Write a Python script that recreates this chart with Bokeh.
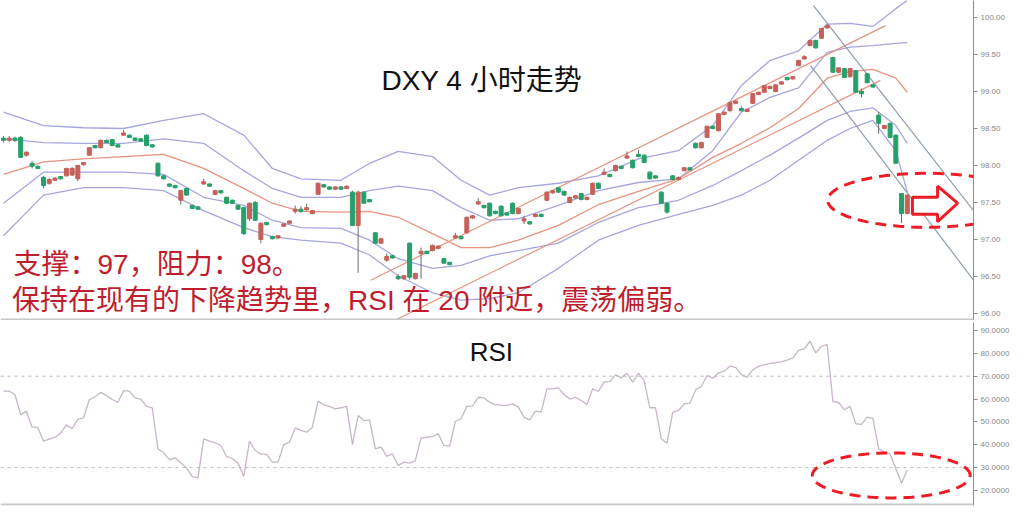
import numpy as np
from bokeh.plotting import figure
from bokeh.layouts import column
from bokeh.models import (Range1d, FixedTicker, NumeralTickFormatter, Span, Label,
                          PolyAnnotation, ColumnDataSource)
from bokeh.embed import file_html
from bokeh.resources import INLINE

# ---------------- data ----------------
opens = [98.37, 98.34, 98.37, 98.38, 98.14, 98.03, 97.99, 97.84, 97.76, 97.80,
         97.85, 97.86, 97.87, 97.82, 98.01, 98.14, 98.27, 98.24, 98.34, 98.35,
         98.28, 98.41, 98.41, 98.37, 98.36, 98.41, 98.28, 98.03, 97.86, 97.75,
         97.73, 97.53, 97.69, 97.46, 97.44, 97.75, 97.75, 97.61, 97.66, 97.57,
         97.53, 97.46, 97.43, 97.28, 97.50, 97.00, 97.23, 97.04, 97.02, 97.18,
         97.22, 97.38, 97.41, 97.40, 97.35, 97.61, 97.74, 97.71, 97.68, 97.71,
         97.69, 97.64, 97.19, 97.64, 97.54, 97.09, 96.95, 96.72, 96.78, 96.50,
         96.47, 96.95, 96.47, 96.81, 96.84, 96.85, 96.88, 96.74, 96.69, 97.02,
         97.04, 97.09, 97.29, 97.48, 97.46, 97.49, 97.38, 97.45, 97.36, 97.49,
         97.35, 97.25, 97.24, 97.31, 97.34, 97.53, 97.63, 97.70, 97.65, 97.50,
         97.56, 97.62, 97.54, 97.61, 97.76, 97.88, 97.88, 97.93, 97.99, 98.10,
         98.07, 98.15, 98.14, 97.91, 97.86, 97.64, 97.49, 97.86, 97.81, 97.93,
         97.97, 98.30, 98.24, 98.38, 98.53, 98.47, 98.69, 98.74, 98.84, 98.77,
         98.73, 98.84, 98.96, 98.99, 99.04, 99.00, 99.10, 99.19, 99.17, 99.35,
         99.44, 99.62, 99.69, 99.72, 99.86, 99.46, 99.26, 99.31, 99.20, 99.28,
         99.00, 99.24, 99.09, 98.68, 98.50, 98.57, 98.41, 97.62, 97.35]
closes = [98.34, 98.37, 98.34, 98.11, 98.18, 97.99, 97.96, 97.73, 97.81, 97.83,
          97.82, 97.96, 97.96, 98.00, 98.04, 98.24, 98.24, 98.34, 98.31, 98.27,
          98.25, 98.44, 98.38, 98.34, 98.33, 98.27, 98.25, 97.86, 97.82, 97.72,
          97.70, 97.66, 97.60, 97.42, 97.41, 97.78, 97.72, 97.66, 97.63, 97.49,
          97.49, 97.41, 97.08, 97.49, 97.26, 97.22, 97.20, 97.01, 97.05, 97.21,
          97.25, 97.41, 97.38, 97.43, 97.39, 97.76, 97.71, 97.68, 97.71, 97.68,
          97.72, 97.19, 97.64, 97.49, 97.51, 96.95, 97.01, 96.77, 96.75, 96.47,
          96.51, 96.49, 96.54, 96.84, 96.81, 96.92, 96.91, 96.68, 96.66, 97.05,
          97.01, 97.30, 97.32, 97.51, 97.43, 97.32, 97.35, 97.32, 97.33, 97.35,
          97.42, 97.28, 97.21, 97.34, 97.31, 97.64, 97.66, 97.64, 97.60, 97.57,
          97.59, 97.54, 97.57, 97.76, 97.69, 97.91, 97.85, 98.00, 97.96, 98.13,
          97.97, 98.12, 98.04, 97.82, 97.83, 97.49, 97.37, 97.81, 97.84, 97.97,
          97.94, 98.24, 98.31, 98.53, 98.50, 98.70, 98.72, 98.85, 98.87, 98.74,
          98.76, 98.97, 98.99, 99.08, 99.07, 99.09, 99.13, 99.16, 99.20, 99.42,
          99.47, 99.69, 99.59, 99.85, 99.89, 99.26, 99.32, 99.19, 99.31, 98.99,
          98.97, 99.12, 99.06, 98.57, 98.54, 98.38, 98.03, 97.35, 97.60]
highs = [98.40, 98.40, 98.39, 98.40, 98.19, 98.06, 98.00, 97.86, 97.83, 97.84,
         97.86, 97.97, 97.98, 98.01, 98.05, 98.25, 98.28, 98.35, 98.35, 98.36,
         98.29, 98.48, 98.42, 98.38, 98.37, 98.42, 98.29, 98.04, 97.87, 97.76,
         97.74, 97.67, 97.70, 97.47, 97.45, 97.82, 97.76, 97.67, 97.67, 97.58,
         97.54, 97.47, 97.44, 97.50, 97.52, 97.23, 97.24, 97.05, 97.06, 97.22,
         97.26, 97.46, 97.45, 97.48, 97.40, 97.77, 97.75, 97.72, 97.72, 97.72,
         97.73, 97.66, 97.66, 97.65, 97.55, 97.10, 97.02, 96.81, 96.79, 96.53,
         96.52, 96.96, 96.55, 96.89, 96.85, 96.93, 96.92, 96.75, 96.70, 97.09,
         97.05, 97.31, 97.33, 97.56, 97.47, 97.50, 97.39, 97.46, 97.37, 97.50,
         97.43, 97.32, 97.25, 97.35, 97.35, 97.65, 97.67, 97.71, 97.66, 97.58,
         97.60, 97.63, 97.58, 97.77, 97.77, 97.96, 97.89, 98.01, 98.00, 98.19,
         98.08, 98.21, 98.15, 97.92, 97.87, 97.65, 97.50, 97.87, 97.85, 97.98,
         97.98, 98.31, 98.32, 98.54, 98.54, 98.71, 98.73, 98.86, 98.88, 98.80,
         98.77, 98.98, 99.00, 99.09, 99.08, 99.10, 99.14, 99.20, 99.21, 99.43,
         99.49, 99.70, 99.70, 99.86, 99.91, 99.47, 99.33, 99.32, 99.32, 99.29,
         99.04, 99.25, 99.10, 98.72, 98.55, 98.58, 98.42, 97.63, 97.61]
lows = [98.31, 98.32, 98.32, 98.10, 98.12, 97.96, 97.95, 97.69, 97.74, 97.79,
        97.81, 97.85, 97.86, 97.79, 98.00, 98.13, 98.23, 98.23, 98.30, 98.26,
        98.24, 98.40, 98.37, 98.33, 98.32, 98.26, 98.24, 97.85, 97.81, 97.71,
        97.69, 97.47, 97.59, 97.41, 97.40, 97.74, 97.71, 97.60, 97.62, 97.48,
        97.48, 97.40, 97.06, 97.25, 97.25, 96.95, 97.19, 97.00, 97.01, 97.17,
        97.21, 97.35, 97.36, 97.39, 97.34, 97.60, 97.70, 97.67, 97.67, 97.67,
        97.68, 97.18, 96.55, 97.48, 97.50, 96.94, 96.94, 96.70, 96.74, 96.45,
        96.45, 96.46, 96.46, 96.47, 96.80, 96.84, 96.87, 96.67, 96.65, 97.01,
        97.00, 97.08, 97.28, 97.47, 97.42, 97.31, 97.34, 97.31, 97.32, 97.34,
        97.34, 97.21, 97.20, 97.30, 97.30, 97.52, 97.62, 97.63, 97.59, 97.49,
        97.55, 97.53, 97.53, 97.60, 97.68, 97.87, 97.84, 97.92, 97.95, 98.09,
        97.96, 98.11, 98.03, 97.81, 97.82, 97.48, 97.35, 97.80, 97.80, 97.92,
        97.93, 98.23, 98.23, 98.37, 98.49, 98.46, 98.68, 98.73, 98.83, 98.73,
        98.72, 98.83, 98.95, 98.98, 99.03, 98.99, 99.09, 99.15, 99.16, 99.34,
        99.43, 99.61, 99.58, 99.71, 99.85, 99.25, 99.25, 99.18, 99.19, 98.98,
        98.92, 99.11, 99.05, 98.43, 98.49, 98.37, 98.02, 97.22, 97.34]

bb_idx = [0, 7, 14, 21, 28, 35, 42, 47, 52, 59, 64, 69, 75, 80, 85, 90, 97, 104,
          111, 118, 124, 129, 134, 139, 144, 148, 152, 156, 158]
bb_mid = [97.88, 98.05, 98.09, 98.12, 98.15, 97.96, 97.69, 97.49, 97.38, 97.37,
          97.38, 97.30, 97.08, 96.89, 96.89, 96.99, 97.19, 97.47, 97.65, 97.82,
          98.11, 98.30, 98.51, 98.77, 99.18, 99.27, 99.30, 99.18, 98.99]
bb_up2 = [98.72, 98.54, 98.51, 98.50, 98.61, 98.70, 98.41, 97.96, 97.82, 97.80,
          98.03, 98.19, 98.12, 97.80, 97.60, 97.70, 97.76, 97.86, 98.09, 98.20,
          98.54, 99.08, 99.42, 99.55, 99.91, 99.92, 99.88, 100.12, 100.23]
bb_up1 = [98.36, 98.31, 98.30, 98.30, 98.36, 98.30, 97.93, 97.69, 97.57, 97.57,
          97.66, 97.72, 97.66, 97.43, 97.26, 97.28, 97.46, 97.66, 97.77, 97.82,
          98.20, 98.72, 98.92, 99.05, 99.53, 99.60, 99.62, 99.65, 99.66]
bb_lo1 = [97.49, 97.91, 97.91, 97.91, 97.88, 97.57, 97.46, 97.26, 97.16, 97.15,
          96.99, 96.74, 96.61, 96.65, 96.78, 96.85, 96.95, 97.23, 97.43, 97.53,
          97.73, 97.93, 98.14, 98.37, 98.61, 98.73, 98.78, 98.54, 98.30]
bb_lo2 = [97.05, 97.60, 97.70, 97.70, 97.66, 97.39, 97.16, 97.04, 96.99, 96.95,
          96.79, 96.51, 96.28, 96.18, 96.20, 96.28, 96.61, 96.99, 97.19, 97.34,
          97.46, 97.60, 97.80, 98.07, 98.34, 98.50, 98.61, 98.20, 97.64]

# trend lines (index, price)
up_chan_x, up_chan_y = [64.2, 154.2], [96.45, 99.89]
lo_chan_x, lo_chan_y = [67.7, 153.3], [95.88, 99.15]
dn_a_x, dn_a_y = [141.6, 169.6], [100.16, 97.39]
dn_b_x, dn_b_y = [141.1, 169.6], [99.35, 96.45]

rsi = [63.5, 63.5, 62.0, 53.1, 54.7, 47.7, 47.7, 41.6, 42.5, 43.3,
       45.1, 48.7, 47.0, 51.2, 51.8, 59.7, 61.0, 62.9, 61.6, 59.8,
       58.6, 63.7, 63.5, 60.5, 60.0, 56.8, 56.2, 38.2, 36.6, 33.4,
       34.3, 32.0, 29.9, 26.1, 25.5, 42.6, 41.6, 40.9, 39.7, 34.9,
       34.0, 32.0, 26.1, 41.6, 37.5, 36.0, 35.8, 32.4, 32.4, 40.1,
       41.1, 47.4, 46.3, 45.5, 47.7, 59.1, 57.5, 56.8, 55.7, 56.2,
       56.8, 40.1, 52.8, 50.6, 50.9, 38.2, 39.0, 34.9, 36.0, 31.0,
       32.4, 32.0, 33.1, 43.0, 43.3, 43.6, 44.8, 39.7, 39.4, 50.3,
       51.4, 56.8, 56.9, 60.8, 60.5, 58.6, 57.6, 57.2, 57.2, 57.9,
       56.5, 52.1, 50.9, 54.7, 54.3, 64.5, 64.5, 64.9, 62.0, 60.0,
       60.8, 59.4, 57.5, 64.5, 63.3, 67.4, 67.7, 70.6, 69.3, 71.3,
       67.4, 71.3, 68.1, 56.2, 56.2, 42.6, 40.7, 54.3, 55.0, 57.9,
       58.2, 64.0, 65.5, 70.3, 69.1, 71.5, 72.2, 74.4, 73.9, 70.7,
       69.6, 72.8, 74.3, 75.0, 75.6, 75.9, 76.3, 77.0, 78.0, 81.3,
       82.0, 85.3, 80.2, 83.0, 83.9, 58.9, 58.5, 55.3, 56.8, 49.2,
       48.9, 52.1, 51.6, 38.2, 36.8, 36.0, 29.5, 23.2, 29.0]

price_ticks = [96.0, 96.5, 97.0, 97.5, 98.0, 98.5, 99.0, 99.5, 100.0]
rsi_ticks = [20, 30, 40, 50, 60, 70, 80, 90]
rsi_levels = [70, 30]

# ---------------- styling constants ----------------
PX = 5.72                      # pixels per candle
X0 = -3.0 / PX
X1 = X0 + 973 / PX
GREEN = "#26a06a"
RED = "#c6615a"
BLUE = "#a6a6de"
SALMON = "#e8937f"
GREY_LINE = "#8e9cab"
ANN_RED = "#ee1c25"
TXT_RED = "#bf1e2e"
FONT = "Liberation Sans, Noto Sans CJK SC"

idx = list(range(len(opens)))
src = ColumnDataSource(dict(
    x=idx,
    top=[max(o, c) for o, c in zip(opens, closes)],
    bottom=[min(o, c) for o, c in zip(opens, closes)],
    high=highs, low=lows,
    color=[RED if c > o else GREEN for o, c in zip(opens, closes)],
))


def style_axis(ax, ticks, fmt):
    ax.ticker = FixedTicker(ticks=ticks)
    ax.formatter = NumeralTickFormatter(format=fmt)
    ax.major_label_text_font_size = "8px"
    ax.major_label_text_font = "Liberation Sans"
    ax.major_label_text_color = "#8a8a8a"
    ax.axis_line_color = "#8c8c8c"
    ax.major_tick_line_color = "#8c8c8c"
    ax.major_tick_out = 4
    ax.major_tick_in = 0
    ax.minor_tick_line_color = None
    ax.major_label_standoff = 3


# ---------------- top panel ----------------
p = figure(width=1016, height=320, x_range=Range1d(X0, X1),
           y_range=Range1d(95.905, 100.23), output_backend="svg",
           toolbar_location=None, x_axis_location=None, y_axis_location="right",
           min_border_left=0, min_border_right=43, min_border_top=0,
           min_border_bottom=0, outline_line_color=None)
p.xgrid.visible = False
p.ygrid.visible = False
style_axis(p.yaxis[0], price_ticks, "0.00")

for ys in (bb_up2, bb_up1, bb_lo1, bb_lo2):
    p.line(bb_idx, ys, line_color=BLUE, line_width=1.3)
p.line(bb_idx, bb_mid, line_color=SALMON, line_width=1.3)
p.line(up_chan_x, up_chan_y, line_color=SALMON, line_width=1.2)
p.line(lo_chan_x, lo_chan_y, line_color=SALMON, line_width=1.2)
p.line(dn_a_x, dn_a_y, line_color=GREY_LINE, line_width=1.2)
p.line(dn_b_x, dn_b_y, line_color=GREY_LINE, line_width=1.2)

p.segment(x0="x", y0="low", x1="x", y1="high", source=src, line_color="#6b6b6b",
          line_width=1)
p.vbar(x="x", width=0.7, top="top", bottom="bottom", fill_color="color",
       line_color="color", source=src)


def ellipse_pts(cx, cy, a, b, n=140):
    t = np.linspace(0, 2 * np.pi, n)
    return [float(v) for v in cx + a * np.cos(t)], [float(v) for v in cy + b * np.sin(t)]


ex, ey = ellipse_pts(161.4, 97.53, 17.3, 0.365)
p.add_layout(PolyAnnotation(xs=ex, ys=ey, fill_color=None, fill_alpha=0,
                            line_color=ANN_RED, line_alpha=1.0,
                            line_width=3, line_dash="11 7"))

arrow_x = [158.9, 163.3, 163.3, 166.8, 163.3, 163.3, 158.9]
arrow_y = [97.57, 97.57, 97.72, 97.49, 97.24, 97.34, 97.34]
p.patch(arrow_x, arrow_y, fill_color="white", line_color=ANN_RED, line_width=3)

p.add_layout(Span(location=95.905 + 1.0 / 74, dimension="width",
                  line_color="#c8c8c8", line_width=2))

p.add_layout(Label(x=84.3, y=99.149, text="DXY  4 小时走势", text_font=FONT,
                   text_font_size="28px", text_align="center",
                   text_baseline="middle", text_color="#111111"))
p.add_layout(Label(x=1.75, y=96.66, text="支撑：97，阻力：98。", text_font=FONT,
                   text_font_size="28px", text_align="left",
                   text_baseline="middle", text_color=TXT_RED))
p.add_layout(Label(x=1.5, y=96.176,
                   text="保持在现有的下降趋势里，RSI 在 20 附近，震荡偏弱。",
                   text_font=FONT, text_font_size="28px", text_align="left",
                   text_baseline="middle", text_color=TXT_RED))

# ---------------- RSI panel ----------------
p2 = figure(width=1016, height=195, x_range=Range1d(X0, X1),
            y_range=Range1d(13.44, 93.5), output_backend="svg",
            toolbar_location=None, x_axis_location=None, y_axis_location="right",
            min_border_left=0, min_border_right=43, min_border_top=2,
            min_border_bottom=10, outline_line_color=None)
p2.xgrid.visible = False
p2.ygrid.visible = False
style_axis(p2.yaxis[0], rsi_ticks, "0.0000")

for lv in rsi_levels:
    p2.add_layout(Span(location=lv, dimension="width", line_color="#b8b8b8",
                       line_width=1, line_dash="3 4"))
p2.line(idx, rsi, line_color="#c9b5cb", line_width=1.3)

rx, ry = ellipse_pts(155.2, 26.6, 13.8, 9.84)
p2.add_layout(PolyAnnotation(xs=rx, ys=ry, fill_color=None, fill_alpha=0,
                             line_color=ANN_RED, line_alpha=1.0,
                             line_width=3, line_dash="11 7"))
p2.add_layout(Span(location=13.44 + 1.0 / 2.2857, dimension="width",
                   line_color="#c8c8c8", line_width=2))
p2.add_layout(Label(x=85.3, y=80.4, text="RSI", text_font=FONT,
                    text_font_size="26px", text_align="center",
                    text_baseline="middle", text_color="#111111"))

layout = column(p, p2)
open("out.html", "w").write(file_html(layout, INLINE))
